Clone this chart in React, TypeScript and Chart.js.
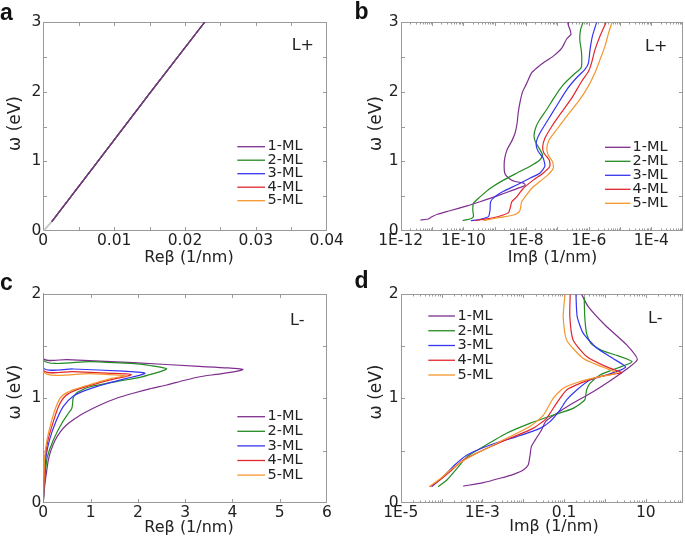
import React, { useEffect, useRef } from 'react';
import { Chart, registerables } from 'chart.js';
Chart.register(...registerables);

const W = 685;
const H = 545;
const YW = 43;
const XH = 34;
const FONT = "'DejaVu Sans', Verdana, sans-serif";
const TEXT = '#222222';
const FRAME = '#9a9a9a';

const SERIES = ['1-ML', '2-ML', '3-ML', '4-ML', '5-ML'];
const COLORS = ['#7E2F8E', '#228B22', '#3535F0', '#E2262C', '#F5962E'];

// ---------- panel a (L+, Re beta) ----------
const aOmega = [0.134, 1.0, 2.0, 3.0];
const aBeta = [0.0012, 0.0077, 0.0152, 0.0228];
const aGrayOmega = [0, 0.134];
const aGrayBeta = [0, 0.0012];
const aXTickVals = [0, 0.01, 0.02, 0.03, 0.04];
const aXTickLabels = ['0', '0.01', '0.02', '0.03', '0.04'];
const abYTickVals = [0, 1, 2, 3];
const abYTickLabels = ['0', '1', '2', '3'];

// ---------- panel b (L+, Im beta) ----------
const bOmega1 = [0.158, 0.172, 0.2, 0.215, 0.24, 0.29, 0.36, 0.42, 0.5, 0.59, 0.64, 0.66, 0.69, 0.71, 0.76, 0.83, 0.93, 1.05, 1.17, 1.29, 1.41, 1.55, 1.69, 1.86, 2.0, 2.12, 2.27, 2.34, 2.41, 2.51, 2.63, 2.76, 2.82, 2.9, 2.95, 3.0];
const bBeta1 = [4.2e-12, 7.5e-12, 9.5e-12, 1.1e-11, 1.5e-11, 3.7e-11, 1.3e-10, 3.4e-10, 1.15e-9, 4.0e-9, 8.1e-9, 9.5e-9, 8.1e-9, 4.5e-9, 2.75e-9, 2.1e-9, 2.0e-9, 2.1e-9, 2.5e-9, 3.5e-9, 4.5e-9, 5.2e-9, 5.6e-9, 6.5e-9, 7.8e-9, 1.05e-8, 1.5e-8, 2.2e-8, 3.5e-8, 7.4e-8, 1.4e-7, 2.0e-7, 2.7e-7, 2.5e-7, 2.25e-7, 2.25e-7];
const bOmega2 = [0.149, 0.18, 0.21, 0.3, 0.4, 0.49, 0.61, 0.73, 0.83, 0.93, 1.02, 1.09, 1.19, 1.29, 1.38, 1.5, 1.6, 1.74, 1.93, 2.1, 2.24, 2.32, 2.36, 2.56, 2.75, 2.89, 2.99];
const bBeta2 = [9.5e-11, 1.8e-10, 2.1e-10, 2.0e-10, 2.1e-10, 3.4e-10, 7.1e-10, 1.9e-9, 5.0e-9, 1.35e-8, 2.75e-8, 3.4e-8, 2.6e-8, 1.95e-8, 1.8e-8, 2.1e-8, 2.75e-8, 4.5e-8, 8.3e-8, 1.55e-7, 3.2e-7, 5.2e-7, 5.9e-7, 5.9e-7, 5.2e-7, 5.5e-7, 6.5e-7];
const bOmega3 = [0.149, 0.168, 0.206, 0.3, 0.42, 0.49, 0.57, 0.66, 0.76, 0.83, 0.93, 1.05, 1.14, 1.24, 1.33, 1.45, 1.6, 1.79, 2.03, 2.2, 2.32, 2.41, 2.6, 2.8, 2.99];
const bBeta3 = [1.74e-10, 3.4e-10, 6.3e-10, 7.1e-10, 7.4e-10, 1.0e-9, 1.9e-9, 5.0e-9, 1.35e-8, 2.75e-8, 4.0e-8, 3.5e-8, 2.45e-8, 2.1e-8, 2.3e-8, 3.16e-8, 5.1e-8, 9.3e-8, 2.0e-7, 4.1e-7, 7.6e-7, 9.8e-7, 1.1e-6, 1.32e-6, 1.78e-6];
const bOmega4 = [0.149, 0.173, 0.216, 0.264, 0.35, 0.42, 0.49, 0.61, 0.73, 0.83, 0.93, 1.02, 1.12, 1.21, 1.33, 1.5, 1.67, 1.91, 2.15, 2.29, 2.41, 2.6, 2.8, 2.99];
const bBeta4 = [2.3e-10, 5.5e-10, 1.48e-9, 2.75e-9, 3.2e-9, 3.5e-9, 5.0e-9, 8.1e-9, 1.7e-8, 3.5e-8, 5.75e-8, 5.5e-8, 3.7e-8, 3.4e-8, 4.0e-8, 6.6e-8, 1.2e-7, 2.9e-7, 6.0e-7, 9.8e-7, 1.23e-6, 1.58e-6, 2.3e-6, 3.55e-6];
const bOmega5 = [0.149, 0.195, 0.23, 0.28, 0.35, 0.42, 0.49, 0.61, 0.71, 0.81, 0.9, 0.99, 1.09, 1.19, 1.31, 1.45, 1.65, 1.86, 2.08, 2.27, 2.46, 2.65, 2.84, 2.99];
const bBeta5 = [4.4e-10, 1.48e-9, 4.0e-9, 6.2e-9, 6.8e-9, 7.2e-9, 9.3e-9, 1.5e-8, 2.75e-8, 5.1e-8, 7.4e-8, 7.1e-8, 5.1e-8, 4.6e-8, 5.5e-8, 9.3e-8, 2.0e-7, 4.7e-7, 9.8e-7, 1.58e-6, 2.3e-6, 3.3e-6, 4.3e-6, 5.5e-6];
const bXTickVals = [1e-12, 1e-10, 1e-8, 1e-6, 1e-4];
const bXTickLabels = ['1E-12', '1E-10', '1E-8', '1E-6', '1E-4'];

// ---------- panel c (L-, Re beta) ----------
const cOmega1 = [0, 0.1, 0.19, 0.3, 0.41, 0.5, 0.6, 0.68, 0.745, 0.8, 0.857, 0.936, 1.0, 1.048, 1.09, 1.127, 1.17, 1.206, 1.228, 1.247, 1.262, 1.276, 1.29, 1.305, 1.34, 1.37, 1.382, 2.0];
const cBeta1 = [0, 0.015, 0.036, 0.07, 0.106, 0.16, 0.25, 0.36, 0.49, 0.65, 0.85, 1.2, 1.55, 1.9, 2.25, 2.61, 2.97, 3.31, 3.65, 3.95, 4.13, 4.22, 3.9, 3.3, 1.9, 0.5, 0, 0];
const cOmega2 = [0, 0.1, 0.2, 0.32, 0.44, 0.6, 0.76, 0.857, 0.9, 0.95, 1.0, 1.05, 1.08, 1.11, 1.16, 1.2, 1.235, 1.262, 1.282, 1.295, 1.31, 1.328, 1.35, 1.366, 2.0];
const cBeta2 = [0, 0.012, 0.028, 0.05, 0.085, 0.21, 0.39, 0.53, 0.6, 0.62, 0.63, 0.7, 0.82, 0.99, 1.55, 2.04, 2.33, 2.52, 2.61, 2.5, 2.3, 2.0, 1.0, 0, 0];
const cOmega3 = [0, 0.1, 0.2, 0.32, 0.44, 0.6, 0.76, 0.92, 1.02, 1.08, 1.14, 1.19, 1.21, 1.228, 1.24, 1.25, 1.26, 1.28, 1.293, 2.0];
const cBeta3 = [0, 0.009, 0.02, 0.035, 0.056, 0.13, 0.25, 0.42, 0.63, 0.92, 1.34, 1.76, 1.95, 2.1, 2.15, 2.0, 1.69, 0.63, 0, 0];
const cOmega4 = [0, 0.1, 0.2, 0.32, 0.44, 0.6, 0.76, 0.92, 1.02, 1.08, 1.14, 1.19, 1.21, 1.225, 1.232, 1.24, 1.255, 1.27, 2.0];
const cBeta4 = [0, 0.007, 0.016, 0.027, 0.042, 0.099, 0.2, 0.32, 0.46, 0.7, 1.13, 1.55, 1.75, 1.86, 1.8, 1.34, 0.63, 0, 0];
const cOmega5 = [0, 0.1, 0.2, 0.32, 0.44, 0.6, 0.76, 0.92, 1.02, 1.08, 1.14, 1.19, 1.205, 1.215, 1.222, 1.235, 1.255, 2.0];
const cBeta5 = [0, 0.005, 0.012, 0.019, 0.028, 0.078, 0.16, 0.27, 0.39, 0.63, 1.06, 1.44, 1.62, 1.74, 1.6, 1.0, 0, 0];
const cXTickVals = [0, 1, 2, 3, 4, 5, 6];
const cXTickLabels = ['0', '1', '2', '3', '4', '5', '6'];
const cdYTickVals = [0, 1, 2];
const cdYTickLabels = ['0', '1', '2'];

// ---------- panel d (L-, Im beta) ----------
const dOmega1 = [0.162, 0.194, 0.236, 0.274, 0.315, 0.363, 0.443, 0.538, 0.6, 0.7, 0.78, 0.85, 0.95, 1.06, 1.16, 1.27, 1.37, 1.51, 1.7, 1.875, 1.99];
const dBeta1 = [3.4e-4, 1.05e-3, 2.7e-3, 5.75e-3, 0.01, 0.0132, 0.0145, 0.0158, 0.0195, 0.0282, 0.0355, 0.063, 0.158, 0.5, 1.26, 3.16, 6.2, 3.4, 1.0, 0.39, 0.27];
const dOmega2 = [0.156, 0.22, 0.347, 0.443, 0.538, 0.666, 0.761, 0.84, 0.904, 0.984, 1.08, 1.143, 1.223, 1.287, 1.35, 1.41, 1.46, 1.525, 1.62, 1.78, 1.97];
const dBeta2 = [8.3e-5, 1.35e-4, 2.6e-4, 4.2e-4, 1.05e-3, 3.9e-3, 0.0145, 0.055, 0.166, 0.32, 0.355, 0.43, 0.76, 1.95, 4.6, 1.95, 0.8, 0.45, 0.355, 0.32, 0.31];
const dOmega3 = [0.156, 0.25, 0.363, 0.459, 0.554, 0.634, 0.713, 0.777, 0.888, 0.984, 1.08, 1.175, 1.223, 1.296, 1.38, 1.48, 1.62, 1.78, 1.99];
const dBeta3 = [5.75e-5, 1.1e-4, 2.1e-4, 4.2e-4, 1.55e-3, 6.9e-3, 0.0257, 0.045, 0.079, 0.115, 0.204, 0.43, 1.1, 3.2, 1.58, 0.63, 0.295, 0.209, 0.195];
const dOmega4 = [0.156, 0.22, 0.3, 0.41, 0.506, 0.618, 0.713, 0.809, 0.952, 1.08, 1.143, 1.2, 1.232, 1.245, 1.3, 1.4, 1.557, 1.78, 1.99];
const dBeta4 = [5.25e-5, 9.1e-5, 1.62e-4, 3.4e-4, 1.05e-3, 4.7e-3, 0.0174, 0.037, 0.065, 0.115, 0.245, 0.63, 1.58, 2.57, 1.1, 0.355, 0.166, 0.138, 0.141];
const dOmega5 = [0.156, 0.226, 0.3, 0.395, 0.49, 0.618, 0.73, 0.84, 1.0, 1.096, 1.16, 1.2, 1.24, 1.296, 1.38, 1.557, 1.78, 1.99];
const dBeta5 = [5.0e-5, 8.9e-5, 1.48e-4, 3.1e-4, 8.7e-4, 3.9e-3, 0.0145, 0.031, 0.054, 0.095, 0.245, 0.63, 1.95, 0.91, 0.295, 0.115, 0.095, 0.105];
const dXTickVals = [1e-5, 1e-3, 0.1, 10];
const dXTickLabels = ['1E-5', '1E-3', '0.1', '10'];

// tick-mark helpers (axis decoration only)
function steps(a: number, b: number, s: number) {
  const out: number[] = [];
  for (let v = a; v <= b + 1e-9; v += s) out.push(+v.toFixed(6));
  return out;
}
function decades(e0: number, e1: number) {
  const out: number[] = [];
  for (let e = e0; e <= e1; e++) out.push(Math.pow(10, e));
  return out;
}
function subDecades(e0: number, e1: number) {
  const out: number[] = [];
  for (let e = e0; e <= e1; e++) for (let k = 2; k <= 9; k++) out.push(k * Math.pow(10, e));
  return out;
}

const panels: any[] = [
  {
    id: 'a', L: 43.3, R: 326.7, T: 22, B: 231,
    xType: 'linear', xMin: 0, xMax: 0.04, yMax: 3,
    xTickVals: aXTickVals, xTickLabels: aXTickLabels, yTickVals: abYTickVals, yTickLabels: abYTickLabels,
    xMajor: steps(0, 0.04, 0.005), xMinor: [], yMajor: steps(0, 3, 0.5),
    series: [[aBeta, aOmega], [aBeta, aOmega], [aBeta, aOmega], [aBeta, aOmega], [aBeta, aOmega]],
    gray: [aGrayBeta, aGrayOmega], firstOnTop: true, tension: 0,
    letter: ['a', 0, 20], mode: ['L+', 291.7, 50],
    xTitle: ['Re\u03b2 (1/nm)', 189, 257.5], yTitle: ['\u03c9 (eV)', 15.8, 123.5],
    legend: { x1: 237.3, x2: 265, tx: 267.5, y0: 146.7, dy: 13.5 },
  },
  {
    id: 'b', L: 400.7, R: 682.7, T: 22, B: 231,
    xType: 'logarithmic', xMin: 1e-12, xMax: 1e-3, yMax: 3,
    xTickVals: bXTickVals, xTickLabels: bXTickLabels, yTickVals: abYTickVals, yTickLabels: abYTickLabels,
    xMajor: decades(-12, -3), xMinor: subDecades(-12, -4), yMajor: steps(0, 3, 0.5),
    series: [[bBeta1, bOmega1], [bBeta2, bOmega2], [bBeta3, bOmega3], [bBeta4, bOmega4], [bBeta5, bOmega5]],
    firstOnTop: false, tension: 0.2,
    letter: ['b', 354.5, 18.5], mode: ['L+', 645, 51],
    xTitle: ['Im\u03b2 (1/nm)', 552.5, 257.5], yTitle: ['\u03c9 (eV)', 376.7, 123.5],
    legend: { x1: 605, x2: 630.5, tx: 632.5, y0: 147.3, dy: 14 },
  },
  {
    id: 'c', L: 43.3, R: 327, T: 293.6, B: 503,
    xType: 'linear', xMin: 0, xMax: 6, yMax: 2,
    xTickVals: cXTickVals, xTickLabels: cXTickLabels, yTickVals: cdYTickVals, yTickLabels: cdYTickLabels,
    xMajor: steps(0, 6, 1), xMinor: [], yMajor: steps(0, 2, 0.5),
    series: [[cBeta1, cOmega1], [cBeta2, cOmega2], [cBeta3, cOmega3], [cBeta4, cOmega4], [cBeta5, cOmega5]],
    firstOnTop: false, tension: 0.25,
    letter: ['c', 0, 290], mode: ['L-', 290, 325],
    xTitle: ['Re\u03b2 (1/nm)', 189, 527.5], yTitle: ['\u03c9 (eV)', 15.8, 392],
    legend: { x1: 237.3, x2: 265, tx: 267.5, y0: 416.7, dy: 14.6 },
  },
  {
    id: 'd', L: 400.7, R: 682.7, T: 293.6, B: 503,
    xType: 'logarithmic', xMin: 1e-5, xMax: 80, yMax: 2,
    xTickVals: dXTickVals, xTickLabels: dXTickLabels, yTickVals: cdYTickVals, yTickLabels: cdYTickLabels,
    xMajor: decades(-5, 1), xMinor: subDecades(-5, 1), yMajor: steps(0, 2, 0.5),
    series: [[dBeta1, dOmega1], [dBeta2, dOmega2], [dBeta3, dOmega3], [dBeta4, dOmega4], [dBeta5, dOmega5]],
    firstOnTop: false, tension: 0.2,
    letter: ['d', 354.5, 288.3], mode: ['L-', 648, 323],
    xTitle: ['Im\u03b2 (1/nm)', 554, 526.7], yTitle: ['\u03c9 (eV)', 376.7, 392],
    legend: { x1: 428.3, x2: 455, tx: 457.5, y0: 316, dy: 14.75 },
  },
];

function pts(xs: number[], ys: number[]) {
  return xs.map((x, i) => ({ x, y: ys[i] }));
}

function makeDecor(p: any) {
  const MAJ = 3.5;
  const MIN = 2;
  return {
    id: 'decor_' + p.id,
    beforeDatasetsDraw(chart: any) {
      const { ctx, chartArea: ca, scales } = chart;
      const xs = scales.x;
      const ys = scales.y;
      const l = Math.round(ca.left) + 0.5;
      const r = Math.round(ca.right) - 0.5;
      const t = Math.round(ca.top) + 0.5;
      const b = Math.round(ca.bottom) - 0.5;
      ctx.save();
      ctx.lineWidth = 1;
      ctx.strokeStyle = FRAME;
      ctx.beginPath();
      const vx = (v: number, len: number) => {
        const px = xs.getPixelForValue(v);
        if (px < ca.left + 1 || px > ca.right - 1) return;
        const x = Math.round(px) + 0.5;
        ctx.moveTo(x, b); ctx.lineTo(x, b - len);
        ctx.moveTo(x, t); ctx.lineTo(x, t + len);
      };
      const hy = (v: number, len: number) => {
        const py = ys.getPixelForValue(v);
        if (py < ca.top + 1 || py > ca.bottom - 1) return;
        const y = Math.round(py) + 0.5;
        ctx.moveTo(l, y); ctx.lineTo(l + len, y);
        ctx.moveTo(r, y); ctx.lineTo(r - len, y);
      };
      p.xMajor.forEach((v: number) => vx(v, MAJ));
      p.xMinor.forEach((v: number) => vx(v, MIN));
      p.yMajor.forEach((v: number) => hy(v, MAJ));
      ctx.stroke();
      ctx.strokeRect(l, t, r - l, b - t);
      ctx.restore();
    },
    afterDraw(chart: any) {
      const ctx = chart.ctx;
      ctx.save();
      const lg = p.legend;
      let row = 0;
      chart.data.datasets.forEach((d: any) => {
        if (!d.label) return;
        const y = lg.y0 + row * lg.dy;
        ctx.strokeStyle = d.borderColor;
        ctx.lineWidth = 1.3;
        ctx.beginPath();
        ctx.moveTo(lg.x1, y);
        ctx.lineTo(lg.x2, y);
        ctx.stroke();
        ctx.fillStyle = TEXT;
        ctx.font = `14.5px ${FONT}`;
        ctx.textAlign = 'left';
        ctx.textBaseline = 'middle';
        ctx.fillText(d.label, lg.tx, y);
        row++;
      });
      ctx.fillStyle = '#111';
      ctx.font = "bold 23px 'Liberation Sans', Arial, sans-serif";
      ctx.textAlign = 'left';
      ctx.textBaseline = 'alphabetic';
      ctx.fillText(p.letter[0], p.letter[1], p.letter[2]);
      ctx.fillStyle = TEXT;
      ctx.font = `16px ${FONT}`;
      ctx.fillText(p.mode[0], p.mode[1], p.mode[2]);
      ctx.font = `16px ${FONT}`;
      ctx.textAlign = 'center';
      ctx.textBaseline = 'middle';
      ctx.fillText(p.xTitle[0], p.xTitle[1], p.xTitle[2]);
      ctx.save();
      ctx.translate(p.yTitle[1], p.yTitle[2]);
      ctx.rotate(-Math.PI / 2);
      ctx.font = `17px ${FONT}`;
      ctx.fillText(p.yTitle[0], 0, 0);
      ctx.restore();
      ctx.restore();
    },
  };
}

function buildChart(canvas: HTMLCanvasElement, p: any) {
  const datasets: any[] = p.series.map((s: any, i: number) => ({
    label: SERIES[i],
    data: pts(s[0], s[1]),
    borderColor: COLORS[i],
    backgroundColor: COLORS[i],
    borderWidth: 1.2,
    showLine: true,
    pointRadius: 0,
    pointHoverRadius: 0,
    tension: p.tension,
    fill: false,
    order: p.firstOnTop ? i : 4 - i,
  }));
  if (p.gray) {
    datasets.push({
      label: '',
      data: pts(p.gray[0], p.gray[1]),
      borderColor: '#c4c4c4',
      borderWidth: 1.8,
      showLine: true,
      pointRadius: 0,
      order: 10,
    });
  }
  const tickFont = { family: FONT, size: 15.5 };
  return new Chart(canvas, {
    type: 'scatter',
    data: { datasets },
    options: {
      responsive: false,
      maintainAspectRatio: false,
      animation: false,
      events: [],
      layout: { padding: { left: p.L - YW, top: p.T, right: W - p.R, bottom: H - p.B - XH } },
      plugins: { legend: { display: false }, tooltip: { enabled: false }, title: { display: false } },
      scales: {
        x: {
          type: p.xType,
          min: p.xMin,
          max: p.xMax,
          bounds: 'data',
          grid: { display: false, drawTicks: false, tickLength: 0 },
          border: { display: false },
          ticks: {
            font: tickFont, color: TEXT, padding: 1, autoSkip: false, maxRotation: 0, minRotation: 0,
            callback: (_v: any, i: number) => p.xTickLabels[i],
          },
          afterBuildTicks: (s: any) => { s.ticks = p.xTickVals.map((v: number) => ({ value: v })); },
          afterFit: (s: any) => { s.height = XH; },
        },
        y: {
          type: 'linear',
          min: 0,
          max: p.yMax,
          bounds: 'data',
          grid: { display: false, drawTicks: false, tickLength: 0 },
          border: { display: false },
          ticks: {
            font: tickFont, color: TEXT, padding: 2, autoSkip: false,
            callback: (_v: any, i: number) => p.yTickLabels[i],
          },
          afterBuildTicks: (s: any) => { s.ticks = p.yTickVals.map((v: number) => ({ value: v })); },
          afterFit: (s: any) => { s.width = YW; },
        },
      },
    } as any,
    plugins: [makeDecor(p)],
  } as any);
}

export default function App() {
  const refs = [useRef<HTMLCanvasElement>(null), useRef<HTMLCanvasElement>(null), useRef<HTMLCanvasElement>(null), useRef<HTMLCanvasElement>(null)];
  useEffect(() => {
    const charts = panels.map((p, i) => buildChart(refs[i].current as HTMLCanvasElement, p));
    return () => charts.forEach((c) => c.destroy());
  }, []);
  return (
    <div style={{ position: 'absolute', left: 0, top: 0, width: W, height: H, background: '#ffffff', overflow: 'hidden' }}>
      {refs.map((r, i) => (
        <canvas key={i} ref={r} width={W} height={H} style={{ position: 'absolute', left: 0, top: 0, width: W, height: H }} />
      ))}
    </div>
  );
}
